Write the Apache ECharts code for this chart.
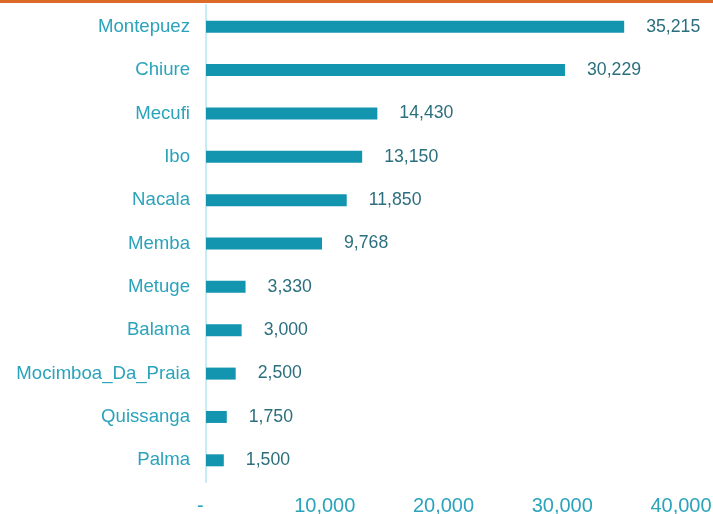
<!DOCTYPE html>
<html>
<head>
<meta charset="utf-8">
<script src="https://cdn.jsdelivr.net/npm/echarts@6/dist/echarts.min.js"></script>
<style>
  html, body { margin: 0; padding: 0; background: #fff; }
  #chart { width: 713px; height: 514px; }
</style>
</head>
<body>
<div id="chart"></div>
<script>
// districts, bottom to top as the axis draws them
var districts = ['Palma', 'Quissanga', 'Mocimboa_Da_Praia', 'Balama', 'Metuge', 'Memba', 'Nacala', 'Ibo', 'Mecufi', 'Chiure', 'Montepuez'];
var totals = [1500, 1750, 2500, 3000, 3330, 9768, 11850, 13150, 14430, 30229, 35215];
var xTicks = [0, 10000, 20000, 30000, 40000];

var teal = '#1395b0';
var fmt = function (v) {
  return v === 0 ? '-' : v.toLocaleString('en-US');
};

var myChart = echarts.init(document.getElementById('chart'));
var option = {
  animation: false,
  graphic: [{
    type: 'rect',
    shape: { x: 0, y: 0, width: 713, height: 3 },
    style: { fill: '#dc6a28' }
  }],
  grid: {
    left: 206,
    right: 32,
    top: 5,
    bottom: 32,
    containLabel: false,
    outerBoundsMode: 'none'
  },
  xAxis: {
    type: 'value',
    min: xTicks[0],
    max: xTicks[xTicks.length - 1],
    interval: 10000,
    splitLine: { show: false },
    axisLine: { show: false },
    axisTick: { show: false },
    axisLabel: {
      color: '#2aa3bb',
      fontFamily: 'Liberation Sans',
      fontSize: 20,
      margin: 14,
      formatter: function (v) { return v === 0 ? '-  ' : fmt(v); }
    }
  },
  yAxis: {
    type: 'category',
    data: districts,
    axisTick: { show: false },
    axisLine: { show: true, lineStyle: { color: '#c6edf3', width: 2 } },
    axisLabel: {
      color: '#2aa3bb',
      fontFamily: 'Liberation Sans',
      fontSize: 18.6,
      margin: 16
    }
  },
  series: [{
    type: 'bar',
    data: totals,
    barWidth: 12,
    itemStyle: { color: teal },
    label: {
      show: true,
      position: 'right',
      distance: 22,
      color: '#2b6f7d',
      fontFamily: 'Liberation Sans',
      fontSize: 17.7,
      formatter: function (p) { return fmt(p.value); }
    }
  }]
};
myChart.setOption(option);
</script>
</body>
</html>
